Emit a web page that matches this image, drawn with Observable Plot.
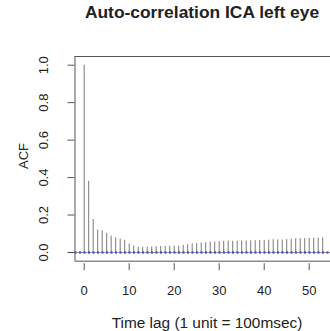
<!DOCTYPE html>
<html><head><meta charset="utf-8">
<script src="https://cdn.jsdelivr.net/npm/d3@7"></script>
<script src="https://cdn.jsdelivr.net/npm/@observablehq/plot@0.6"></script>
<style>body{margin:0;background:#fff} svg{display:block}</style>
</head><body><div id="chart"></div>
<script>
// ACF values for lags 0..53
const acfValues = [1.0, 0.38, 0.176, 0.12, 0.117, 0.102, 0.087, 0.078, 0.072, 0.065,
  0.045, 0.034, 0.028, 0.028, 0.029, 0.029, 0.031, 0.032, 0.033, 0.033,
  0.034, 0.034, 0.037, 0.042, 0.046, 0.048, 0.050, 0.053, 0.055, 0.056,
  0.058, 0.060, 0.061, 0.060, 0.060, 0.061, 0.062, 0.063, 0.063, 0.064,
  0.065, 0.066, 0.068, 0.067, 0.066, 0.069, 0.071, 0.073, 0.074, 0.074,
  0.076, 0.076, 0.077, 0.078];
const ciBound = 0.003;
const xTicks = [0, 10, 20, 30, 40, 50];
const yTicks = [0, 0.2, 0.4, 0.6, 0.8, 1.0];
const titleText = "Auto-correlation ICA left eye";
const xLabelText = "Time lag (1 unit = 100msec)";
const yLabelText = "ACF";

const data = acfValues.map((v, i) => ({lag: i, acf: v}));
const xDomain = [-2.04, 54.73];
const yDomain = [-0.0464, 1.0464];
const font = "'Liberation Sans', Arial, Helvetica, sans-serif";
const W = 330, H = 331;

const chart = Plot.plot({
  width: W, height: H,
  marginLeft: 74.5, marginRight: 0, marginTop: 56, marginBottom: 70.3,
  style: {fontFamily: font, background: "#fff", color: "#222"},
  x: {domain: xDomain, axis: null},
  y: {domain: yDomain, axis: null},
  marks: [
    Plot.ruleY([0], {stroke: "#9a9ab0"}),
    Plot.ruleX(data, {x: "lag", y1: 0, y2: "acf", stroke: "#7a7a7a", strokeWidth: 1}),
    Plot.ruleY([-ciBound, ciBound], {stroke: "#2b2bd6", strokeDasharray: "2,2.5"}),
    Plot.ruleX([xDomain[0]], {stroke: "#555"}),
    Plot.ruleY([yDomain[0], yDomain[1]], {stroke: "#555"}),
    Plot.axisX({ticks: xTicks, tickSize: 7, tickPadding: 14.8, dy: 2.5, fontSize: 13, label: null, stroke: "#555"}),
    Plot.axisY({ticks: yTicks, tickSize: 7, tickFormat: () => "", label: null, stroke: "#555"}),
    Plot.text(yTicks, {frameAnchor: "left", y: d => d, text: d => d.toFixed(1), rotate: -90, dx: -31, fontSize: 13, textAnchor: "middle", lineAnchor: "middle"})
  ]
});
document.getElementById("chart").appendChild(chart);
const svg = d3.select(chart);
svg.append("text").attr("x", 202).attr("y", 18).attr("text-anchor", "middle")
  .attr("font-family", font).attr("font-weight", "bold").attr("font-size", 17.4).text(titleText);
svg.append("text").attr("x", 207).attr("y", 328).attr("text-anchor", "middle")
  .attr("font-family", font).attr("font-size", 15.4).attr("fill", "#222").text(xLabelText);
svg.append("text").attr("transform", "translate(28,156) rotate(-90)").attr("text-anchor", "middle")
  .attr("font-family", font).attr("font-size", 13).attr("fill", "#222").text(yLabelText);
</script></body></html>
